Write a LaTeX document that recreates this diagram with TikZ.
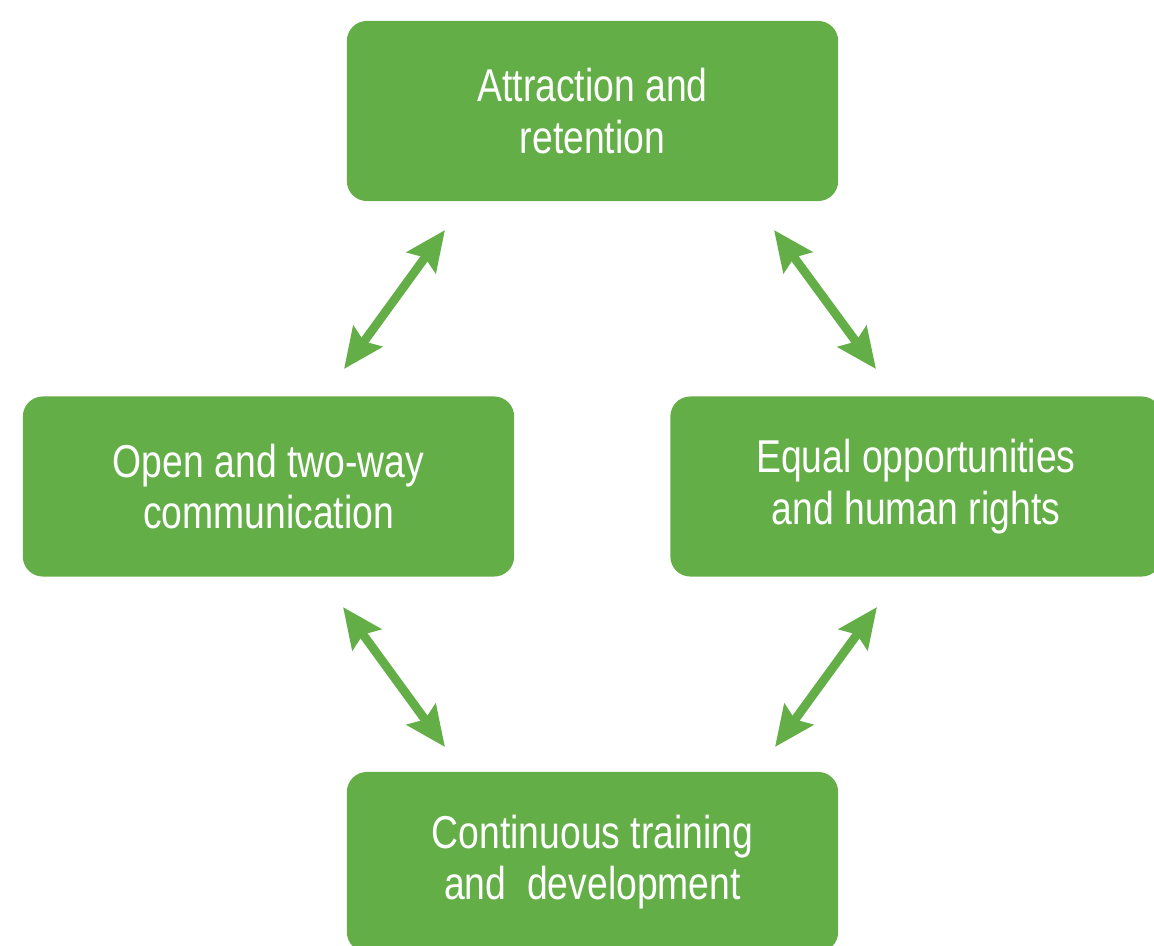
\documentclass[tikz,border=0pt]{standalone}
\usepackage{fontspec}
\usepackage{tikz}
\usetikzlibrary{arrows.meta}
\newfontfamily\boxfont{Liberation Sans}[FakeStretch=0.81]
\definecolor{leafgreen}{RGB}{99,174,71}

\begin{document}
\begin{tikzpicture}[x=0.01cm,y=-0.01cm,
	box/.style={fill=leafgreen, rounded corners=0.2cm, minimum width=4.91cm, minimum height=1.8cm, inner sep=0pt,
		align=center, text=white, font=\boxfont\fontsize{13.1}{14.6}\selectfont},
	link/.style={draw=leafgreen, line width=2.5pt, {Stealth[length=0.4cm,width=0.35cm,inset=0.06cm]}-{Stealth[length=0.4cm,width=0.35cm,inset=0.06cm]}}]
	\useasboundingbox (0,0) rectangle (1154,945);
	\clip (0,0) rectangle (1154,945);

	\node (attract) [box] at (592.5,111) {Attraction and\\retention};
	\node (open) [box] at (268.5,486.5) {Open and two-way\\communication};
	\node (equal) [box] at (916,486.5) {Equal opportunities\\and human rights};
	\node (train) [box] at (592.5,862) {Continuous training\\and\ \ development};

	\coordinate (a1) at (445,230);
	\coordinate (o1) at (344,369);
	\coordinate (a2) at (774,230);
	\coordinate (e1) at (876,369);
	\coordinate (o2) at (343,607);
	\coordinate (t1) at (445,747);
	\coordinate (e2) at (877,607);
	\coordinate (t2) at (775,747);

	\draw[link] (a1) -- (o1);
	\draw[link] (a2) -- (e1);
	\draw[link] (o2) -- (t1);
	\draw[link] (e2) -- (t2);
\end{tikzpicture}
\end{document}
